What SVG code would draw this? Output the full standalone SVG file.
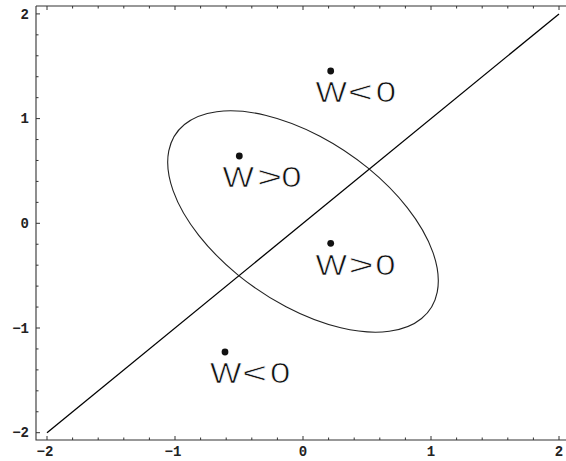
<svg xmlns="http://www.w3.org/2000/svg" width="566" height="461" viewBox="0 0 566 461">
<style>
.frame{fill:none;stroke:#333;stroke-width:1.1}
.tick{fill:none;stroke:#333;stroke-width:1}
.tl{font-family:"Liberation Mono",monospace;font-weight:bold;font-size:14px;fill:#222}
.lab{font-family:"Liberation Sans",Arial,sans-serif;font-size:29.5px;fill:#111;text-anchor:middle;stroke:#fff;stroke-width:0.7}
.dot{fill:#111}
</style>
<rect width="566" height="461" fill="#fff"/>
<g id="axes">
<path class="frame" d="M36,6 H566 M36,6 V440 H566"/>
<path class="tick" d="M47,440v-4M72.6,440v-2.5M98.2,440v-2.5M123.8,440v-2.5M149.4,440v-2.5M175,440v-4M200.6,440v-2.5M226.2,440v-2.5M251.8,440v-2.5M277.4,440v-2.5M303,440v-4M328.6,440v-2.5M354.2,440v-2.5M379.8,440v-2.5M405.4,440v-2.5M431,440v-4M456.6,440v-2.5M482.2,440v-2.5M507.8,440v-2.5M533.4,440v-2.5M559,440v-4
M47,6v4M72.6,6v2.5M98.2,6v2.5M123.8,6v2.5M149.4,6v2.5M175,6v4M200.6,6v2.5M226.2,6v2.5M251.8,6v2.5M277.4,6v2.5M303,6v4M328.6,6v2.5M354.2,6v2.5M379.8,6v2.5M405.4,6v2.5M431,6v4M456.6,6v2.5M482.2,6v2.5M507.8,6v2.5M533.4,6v2.5M559,6v4
M36,13.9h4M36,34.84h2.5M36,55.78h2.5M36,76.72h2.5M36,97.66h2.5M36,118.6h4M36,139.54h2.5M36,160.48h2.5M36,181.42h2.5M36,202.36h2.5M36,223.3h4M36,244.24h2.5M36,265.18h2.5M36,286.12h2.5M36,307.06h2.5M36,328h4M36,348.94h2.5M36,369.88h2.5M36,390.82h2.5M36,411.76h2.5M36,432.7h4"/>
<g class="tl" text-anchor="end">
<text x="29" y="18.5">2</text>
<text x="29" y="123.2">1</text>
<text x="29" y="227.9">0</text>
<text x="29" y="332.6">−1</text>
<text x="29" y="437.3">−2</text>
</g>
<g class="tl" text-anchor="middle">
<text x="45" y="456">−2</text>
<text x="173" y="456">−1</text>
<text x="303" y="456">0</text>
<text x="431" y="456">1</text>
<text x="559" y="456">2</text>
</g>
</g>
<g id="connectors">
<path d="M47,432.7 L559,13.9" fill="none" stroke="#000" stroke-width="1.3"/>
<ellipse cx="0" cy="0" rx="1.31" ry="0.72" transform="matrix(128 0 0 -104.7 303 221.5) rotate(-45)" fill="none" stroke="#222" stroke-width="1.1" vector-effect="non-scaling-stroke"/>
</g>
<g id="label-top">
<circle class="dot" cx="330.7" cy="71" r="3.4"/>
<text class="lab" transform="translate(331.3,101.5) scale(1.13,1)">W</text>
<text class="lab" transform="translate(360.3,101.5) scale(1.46,1)">&lt;</text>
<text class="lab" transform="translate(385.8,101.5) scale(1.24,1)">0</text>
</g>
<g id="label-left">
<circle class="dot" cx="239.3" cy="156" r="3.4"/>
<text class="lab" transform="translate(238.3,187) scale(1.13,1)">W</text>
<text class="lab" transform="translate(269.5,187) scale(1.46,1)">&gt;</text>
<text class="lab" transform="translate(291.3,187) scale(1.24,1)">0</text>
</g>
<g id="label-right">
<circle class="dot" cx="330.7" cy="243.3" r="3.4"/>
<text class="lab" transform="translate(331.3,275) scale(1.13,1)">W</text>
<text class="lab" transform="translate(361.2,275) scale(1.46,1)">&gt;</text>
<text class="lab" transform="translate(385.5,275) scale(1.24,1)">0</text>
</g>
<g id="label-bottom">
<circle class="dot" cx="225" cy="352" r="3.4"/>
<text class="lab" transform="translate(225.6,383) scale(1.13,1)">W</text>
<text class="lab" transform="translate(254.6,383) scale(1.46,1)">&lt;</text>
<text class="lab" transform="translate(280.1,383) scale(1.24,1)">0</text>
</g>
</svg>
